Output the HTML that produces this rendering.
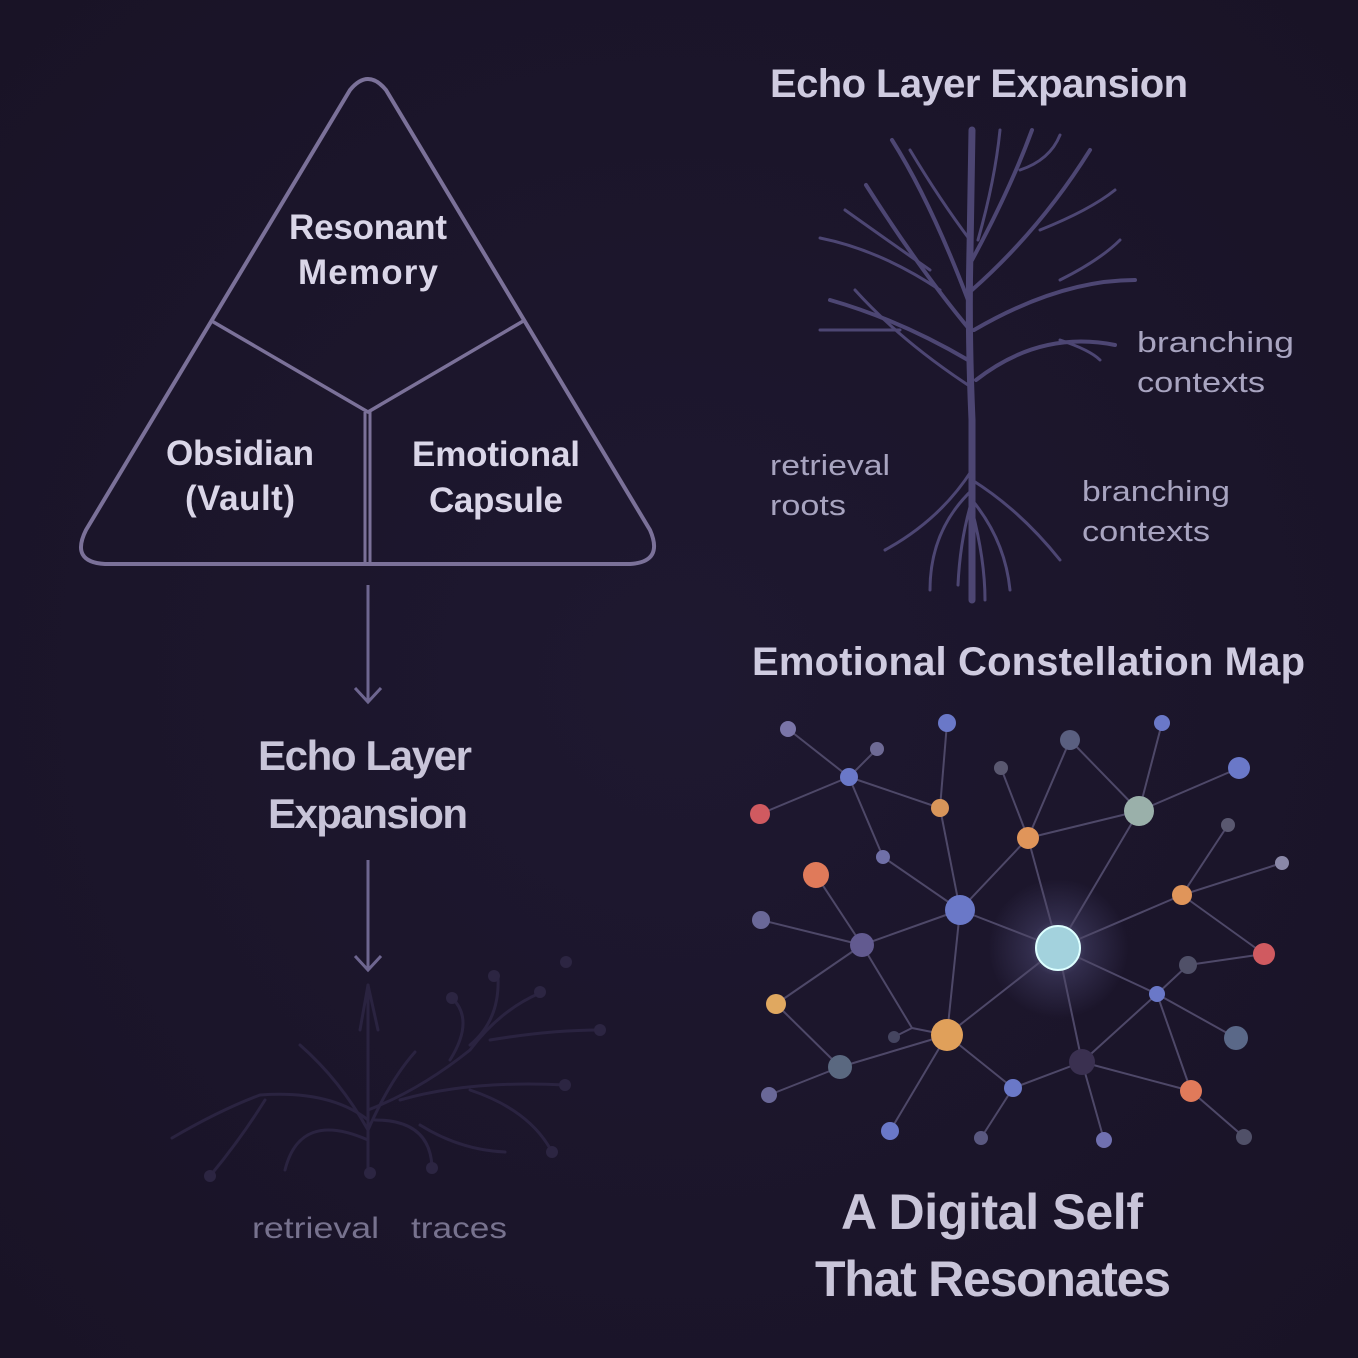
<!DOCTYPE html>
<html><head><meta charset="utf-8"><style>
html,body{margin:0;padding:0;background:#1b1529;}
svg{display:block}
text{font-family:"Liberation Sans",sans-serif;}
</style></head><body>
<svg width="1358" height="1358" viewBox="0 0 1358 1358" xmlns="http://www.w3.org/2000/svg">
<defs>
<radialGradient id="bg" cx="0.5" cy="0.5" r="0.7">
<stop offset="0" stop-color="#1e1830"/><stop offset="1" stop-color="#191326"/></radialGradient>
<radialGradient id="glow" cx="0.5" cy="0.5" r="0.5">
<stop offset="0" stop-color="#c8d8ff" stop-opacity="0.55"/><stop offset="0.4" stop-color="#8a8ad0" stop-opacity="0.2"/><stop offset="1" stop-color="#8a8ad0" stop-opacity="0"/></radialGradient>
</defs>
<rect width="1358" height="1358" fill="url(#bg)"/>

<!-- Triangle -->
<path d="M350,90 Q368,68 386,90 L650,530 Q664,562 630,564 L105,564 Q70,562 86,530 Z" fill="none" stroke="#7b7199" stroke-width="4" stroke-linejoin="round"/>
<polyline points="210,320 368,412 525,320" fill="none" stroke="#7b7199" stroke-width="3.5"/>
<line x1="365" y1="412" x2="365" y2="562" stroke="#7b7199" stroke-width="3"/>
<line x1="370" y1="412" x2="370" y2="562" stroke="#7b7199" stroke-width="3"/>
<g fill="#dad6e8" font-size="35" font-weight="bold" text-anchor="middle">
<text x="368" y="239" textLength="158">Resonant</text>
<text x="368" y="284" textLength="140">Memory</text>
<text x="240" y="465" textLength="148">Obsidian</text>
<text x="240" y="510" textLength="110">(Vault)</text>
<text x="496" y="466" textLength="168">Emotional</text>
<text x="496" y="512" textLength="134">Capsule</text>
</g>
<g stroke="#6e6690" stroke-width="3" fill="none">
<line x1="368" y1="585" x2="368" y2="702"/><polyline points="355,688 368,702 381,688"/>
<line x1="368" y1="860" x2="368" y2="970"/><polyline points="355,956 368,970 381,956"/>
</g>
<g fill="#c9c5d9" font-size="42" font-weight="bold" text-anchor="middle">
<text x="365" y="770" textLength="214">Echo Layer</text>
<text x="368" y="828" textLength="200">Expansion</text>
</g>
<!-- faint tree -->
<g stroke="#2a2340" stroke-width="3" fill="none" stroke-linecap="round">
<path d="M368,985 L368,1172"/>
<path d="M368,1130 Q340,1080 300,1045"/>
<path d="M368,1120 Q330,1090 260,1095 Q220,1110 172,1138"/>
<path d="M368,1140 Q300,1110 285,1170"/>
<path d="M265,1100 Q240,1140 210,1176"/>
<path d="M368,1130 Q390,1080 415,1052"/>
<path d="M368,1110 Q420,1090 470,1050 Q500,1010 540,993"/>
<path d="M450,1060 Q475,1020 452,998"/>
<path d="M470,1045 Q500,1020 498,977"/>
<path d="M490,1040 Q550,1030 600,1030"/>
<path d="M400,1100 Q470,1080 565,1085"/>
<path d="M470,1090 Q530,1110 552,1152"/>
<path d="M375,1120 Q430,1120 432,1167"/>
<path d="M420,1125 Q460,1150 505,1152"/>
<path d="M368,985 L360,1030 M368,985 L378,1030"/>
</g>
<g fill="#2c2542">
<circle cx="210" cy="1176" r="6"/><circle cx="370" cy="1173" r="6"/><circle cx="432" cy="1168" r="6"/><circle cx="552" cy="1152" r="6"/><circle cx="565" cy="1085" r="6"/><circle cx="600" cy="1030" r="6"/><circle cx="540" cy="992" r="6"/><circle cx="566" cy="962" r="6"/><circle cx="494" cy="976" r="6"/><circle cx="452" cy="998" r="6"/>
</g>
<g fill="#77728e" font-size="30">
<text x="252" y="1238" textLength="127" lengthAdjust="spacingAndGlyphs">retrieval</text>
<text x="411" y="1238" textLength="96" lengthAdjust="spacingAndGlyphs">traces</text>
</g>

<!-- Right headings -->
<g fill="#cfcbe0" font-size="40" font-weight="bold">
<text x="770" y="97" textLength="418">Echo Layer Expansion</text>
<text x="752" y="675" textLength="553">Emotional Constellation Map</text>
</g>
<!-- tree -->
<g stroke="#4d4673" fill="none" stroke-linecap="round" stroke-linejoin="round">
<path d="M972,130 L970,250 Q968,330 972,420 L972,600" stroke-width="7"/>
<path d="M968,300 Q930,200 892,140" stroke-width="4"/>
<path d="M970,240 Q940,200 910,150" stroke-width="3"/>
<path d="M972,260 Q1010,190 1032,130" stroke-width="4"/>
<path d="M972,290 Q1040,230 1090,150" stroke-width="4"/>
<path d="M1040,230 Q1090,210 1115,190" stroke-width="3"/>
<path d="M1000,130 Q995,180 978,240" stroke-width="3"/>
<path d="M1020,170 Q1050,160 1060,135" stroke-width="3"/>
<path d="M970,330 Q920,270 866,185" stroke-width="4"/>
<path d="M940,290 Q880,250 820,238" stroke-width="3"/>
<path d="M930,270 Q880,235 845,210" stroke-width="3"/>
<path d="M968,360 Q900,320 830,300" stroke-width="4"/>
<path d="M900,330 Q860,330 820,330" stroke-width="3"/>
<path d="M968,385 Q900,340 855,290" stroke-width="3"/>
<path d="M974,330 Q1060,280 1135,280" stroke-width="4"/>
<path d="M1060,280 Q1100,260 1120,240" stroke-width="3"/>
<path d="M976,380 Q1040,330 1115,345" stroke-width="4"/>
<path d="M1060,340 Q1090,350 1100,360" stroke-width="3"/>
<path d="M972,470 Q940,520 885,550" stroke-width="3"/>
<path d="M972,490 Q930,530 930,590" stroke-width="3"/>
<path d="M972,500 Q960,540 958,585" stroke-width="3"/>
<path d="M972,480 Q1020,510 1060,560" stroke-width="3"/>
<path d="M972,500 Q1005,540 1010,590" stroke-width="3"/>
<path d="M972,510 Q985,560 985,600" stroke-width="3"/>
</g>
<g fill="#a8a4c0" font-size="29">
<text x="1137" y="352" textLength="157" lengthAdjust="spacingAndGlyphs">branching</text>
<text x="1137" y="392" textLength="128" lengthAdjust="spacingAndGlyphs">contexts</text>
<text x="770" y="475" textLength="120" lengthAdjust="spacingAndGlyphs">retrieval</text>
<text x="770" y="515" textLength="76" lengthAdjust="spacingAndGlyphs">roots</text>
<text x="1082" y="501" textLength="148" lengthAdjust="spacingAndGlyphs">branching</text>
<text x="1082" y="541" textLength="128" lengthAdjust="spacingAndGlyphs">contexts</text>
</g>

<!-- constellation -->
<circle cx="1058" cy="948" r="70" fill="url(#glow)"/>
<g stroke="#4e4868" stroke-width="2">
<line x1="788" y1="729" x2="849" y2="777"/><line x1="877" y1="749" x2="849" y2="777"/><line x1="849" y1="777" x2="760" y2="814"/><line x1="849" y1="777" x2="940" y2="808"/><line x1="849" y1="777" x2="883" y2="857"/><line x1="947" y1="723" x2="940" y2="808"/><line x1="940" y1="808" x2="960" y2="910"/><line x1="883" y1="857" x2="960" y2="910"/><line x1="960" y1="910" x2="1028" y2="838"/><line x1="1001" y1="768" x2="1028" y2="838"/><line x1="1070" y1="740" x2="1028" y2="838"/><line x1="1070" y1="740" x2="1139" y2="811"/><line x1="1162" y1="723" x2="1139" y2="811"/><line x1="1239" y1="768" x2="1139" y2="811"/><line x1="1028" y1="838" x2="1139" y2="811"/><line x1="1028" y1="838" x2="1058" y2="948"/><line x1="1139" y1="811" x2="1058" y2="948"/><line x1="960" y1="910" x2="1058" y2="948"/><line x1="960" y1="910" x2="862" y2="945"/><line x1="960" y1="910" x2="947" y2="1035"/><line x1="816" y1="875" x2="862" y2="945"/><line x1="761" y1="920" x2="862" y2="945"/><line x1="862" y1="945" x2="776" y2="1004"/><line x1="862" y1="945" x2="912" y2="1028"/><line x1="894" y1="1037" x2="912" y2="1028"/><line x1="912" y1="1028" x2="947" y2="1035"/><line x1="1058" y1="948" x2="1182" y2="895"/><line x1="1182" y1="895" x2="1228" y2="825"/><line x1="1182" y1="895" x2="1282" y2="863"/><line x1="1182" y1="895" x2="1264" y2="954"/><line x1="1058" y1="948" x2="1157" y2="994"/><line x1="1157" y1="994" x2="1188" y2="965"/><line x1="1188" y1="965" x2="1264" y2="954"/><line x1="1157" y1="994" x2="1236" y2="1038"/><line x1="1157" y1="994" x2="1191" y2="1091"/><line x1="1157" y1="994" x2="1082" y2="1062"/><line x1="1058" y1="948" x2="1082" y2="1062"/><line x1="1058" y1="948" x2="947" y2="1035"/><line x1="947" y1="1035" x2="840" y2="1067"/><line x1="776" y1="1004" x2="840" y2="1067"/><line x1="840" y1="1067" x2="769" y2="1095"/><line x1="947" y1="1035" x2="890" y2="1131"/><line x1="947" y1="1035" x2="1013" y2="1088"/><line x1="1013" y1="1088" x2="1082" y2="1062"/><line x1="1013" y1="1088" x2="981" y2="1138"/><line x1="1082" y1="1062" x2="1104" y2="1140"/><line x1="1082" y1="1062" x2="1191" y2="1091"/><line x1="1191" y1="1091" x2="1244" y2="1137"/>
</g>
<g>
<circle cx="1058" cy="948" r="22" fill="#a3d2dd" stroke="#dff" stroke-width="2"/>
<circle cx="788" cy="729" r="8" fill="#7a75a8"/><circle cx="877" cy="749" r="7" fill="#6e6a95"/><circle cx="849" cy="777" r="9" fill="#6a78c8"/><circle cx="947" cy="723" r="9" fill="#6a78c8"/><circle cx="1070" cy="740" r="10" fill="#5a5f80"/><circle cx="1001" cy="768" r="7" fill="#5a5870"/><circle cx="1162" cy="723" r="8" fill="#6a78c8"/><circle cx="1239" cy="768" r="11" fill="#6a78c8"/><circle cx="1139" cy="811" r="15" fill="#9ab0aa"/><circle cx="940" cy="808" r="9" fill="#d8955a"/><circle cx="1028" cy="838" r="11" fill="#e0955a"/><circle cx="760" cy="814" r="10" fill="#d05a60"/><circle cx="1228" cy="825" r="7" fill="#5a5870"/><circle cx="883" cy="857" r="7" fill="#7070a8"/><circle cx="816" cy="875" r="13" fill="#e07a5a"/><circle cx="1282" cy="863" r="7" fill="#8a88a8"/><circle cx="1182" cy="895" r="10" fill="#e0955a"/><circle cx="960" cy="910" r="15" fill="#6a78c8"/><circle cx="761" cy="920" r="9" fill="#6a6898"/><circle cx="862" cy="945" r="12" fill="#625a90"/><circle cx="1264" cy="954" r="11" fill="#d05a60"/><circle cx="1188" cy="965" r="9" fill="#505068"/><circle cx="1157" cy="994" r="8" fill="#6a78c8"/><circle cx="776" cy="1004" r="10" fill="#e0a860"/><circle cx="894" cy="1037" r="6" fill="#454560"/><circle cx="947" cy="1035" r="16" fill="#e0a05a"/><circle cx="1236" cy="1038" r="12" fill="#5a6888"/><circle cx="840" cy="1067" r="12" fill="#5a6880"/><circle cx="1082" cy="1062" r="13" fill="#3a3050"/><circle cx="1013" cy="1088" r="9" fill="#6a78c8"/><circle cx="1191" cy="1091" r="11" fill="#e07a5a"/><circle cx="769" cy="1095" r="8" fill="#6a6898"/><circle cx="890" cy="1131" r="9" fill="#6a78c8"/><circle cx="981" cy="1138" r="7" fill="#5a5880"/><circle cx="1104" cy="1140" r="8" fill="#7070b0"/><circle cx="1244" cy="1137" r="8" fill="#505068"/>
</g>
<g fill="#c9c5d9" font-size="50" font-weight="bold" text-anchor="middle">
<text x="992" y="1229" textLength="302">A Digital Self</text>
<text x="993" y="1296" textLength="356">That Resonates</text>
</g>
</svg>
</body></html>
